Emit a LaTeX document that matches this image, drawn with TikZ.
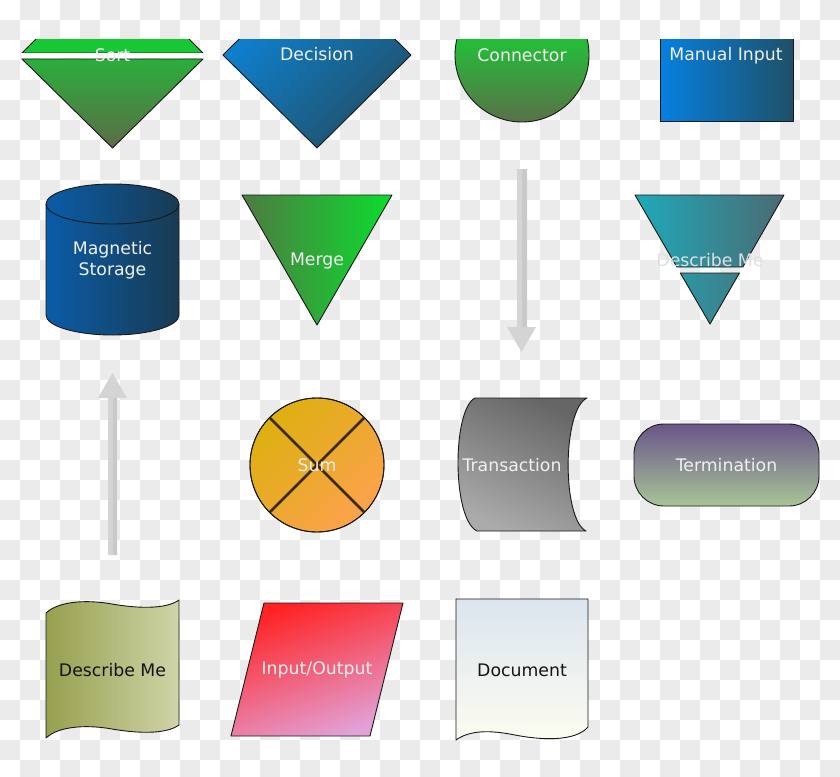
\documentclass[tikz,border=0pt]{standalone}
\usepackage{fontspec}
\setmainfont{DejaVu Sans}
\definecolor{chk}{HTML}{EBEBEB}
\definecolor{lt}{HTML}{F0F0F0}
\definecolor{sortBand}{HTML}{17C733}
\definecolor{sortA}{HTML}{2BAE3B}
\definecolor{sortB}{HTML}{5D6B47}
\definecolor{decA}{HTML}{0A88E0}
\definecolor{decB}{HTML}{225068}
\definecolor{conA}{HTML}{00F030}
\definecolor{conB}{HTML}{5A7048}
\definecolor{manA}{HTML}{0580E0}
\definecolor{manB}{HTML}{1F5068}
\definecolor{cylA}{HTML}{0A5CA8}
\definecolor{cylB}{HTML}{193A52}
\definecolor{merA}{HTML}{4E7A42}
\definecolor{merB}{HTML}{0CDC2E}
\definecolor{dmA}{HTML}{1FA9B9}
\definecolor{dmB}{HTML}{4B6B73}
\definecolor{dmC}{HTML}{2C96A4}
\definecolor{dmD}{HTML}{3E7E88}
\definecolor{sumA}{HTML}{DDB010}
\definecolor{sumB}{HTML}{FCA24C}
\definecolor{sumL}{HTML}{3A2A10}
\definecolor{trA}{HTML}{666666}
\definecolor{trB}{HTML}{ABABAB}
\definecolor{teA}{HTML}{6A5588}
\definecolor{teB}{HTML}{A8C498}
\definecolor{wvA}{HTML}{96A04E}
\definecolor{wvB}{HTML}{D0D4A8}
\definecolor{ioA}{HTML}{FF2222}
\definecolor{ioB}{HTML}{E2A2D8}
\definecolor{docA}{HTML}{DCE5EF}
\definecolor{docB}{HTML}{FCFCF0}
\definecolor{arrA}{HTML}{D4D4D4}
\definecolor{arrB}{HTML}{C9C9C9}
\begin{document}
\begin{tikzpicture}[x=1pt,y=-1pt,
  shp/.style={draw=black!90, line width=0.9pt, line join=round},
  lbl/.style={font=\fontsize{17.3}{21.5}\selectfont, text=lt, inner sep=0pt,
    text height=12.6pt, text depth=0pt},
  dlbl/.style={lbl, text=black!92},
  arrowfill/.style={fill=arrA},
  arrowhalf/.style={fill=arrB}]
\fill[white] (0,0) rectangle (840,776);
\useasboundingbox (0,0) rectangle (840,776);
\foreach \j in {0,...,38}{
  \foreach \k in {0,...,20}{
    \fill[chk] ({20*(2*\k+1-mod(\j,2))},{20*\j}) rectangle +(20,20);
  }
}
% ---------- top row (clipped at y=40) ----------
\begin{scope}
\clip (0,40) rectangle (840,776);
% Sort
\path[shp, fill=sortBand] (22,53) -- (203,53) -- (112.5,-37) -- cycle;
\fill[white] (21,53.5) rectangle (204,58.5);
\path[shp, top color=sortA, bottom color=sortB] (22,59) -- (203,59) -- (112.5,148) -- cycle;
\node[lbl] (sort) at (112.5,55.3) {Sort};
% Decision
\path[shp, top color=decA, bottom color=decB, shading angle=45]
  (223,55) -- (317,-38) -- (411,55) -- (317,148) -- cycle;
\node[lbl] (decision) at (317,53.7) {Decision};
% Connector
\path[shp, top color=conA, bottom color=conB] (522,55) circle[radius=67pt];
\node[lbl] (connector) at (522,55.7) {Connector};
% Manual input
\path[shp, left color=manA, right color=manB] (660,36) rectangle (793,121);
\node[lbl] (manual) at (726,54) {Manual Input};
\end{scope}
% ---------- second row ----------
% Magnetic storage
\path[shp, left color=cylA, right color=cylB]
  (46,204) -- (46,315) arc[start angle=180, end angle=360, x radius=66.5pt, y radius=20pt]
  -- (179,204) arc[start angle=0, end angle=180, x radius=66.5pt, y radius=20pt] -- cycle;
\draw[shp] (46,204) arc[start angle=180, end angle=360, x radius=66.5pt, y radius=20pt];
\node[lbl] (storage1) at (112.5,248.3) {Magnetic};
\node[lbl] (storage2) at (112.5,269.3) {Storage};
% Merge
\path[shp, left color=merA, right color=merB] (242,195) -- (392,195) -- (317,325) -- cycle;
\node[lbl] (merge) at (317,259) {Merge};
% Down arrow
\path[arrowfill] (517,169) -- (517,327) -- (507,327) -- (521.5,352) -- (536,327) -- (527,327) -- (527,169) -- cycle;
\path[arrowhalf] (522,169) rectangle (527,327);
% Describe Me (split triangle)
\path[shp, left color=dmA, right color=dmB] (635,195) -- (784,195) -- (742.8,267) -- (676.9,267) -- cycle;
\path[shp, left color=dmC, right color=dmD] (680.3,273) -- (739.4,273) -- (710,324) -- cycle;
\node[lbl, text=black!12] (describe1) at (710,260.3) {Describe Me};
% ---------- third row ----------
% Up arrow
\path[arrowfill] (108,555) -- (108,398) -- (98,398) -- (112.5,373) -- (127,398) -- (117,398) -- (117,555) -- cycle;
\path[arrowhalf] (112.5,398) rectangle (117,555);
% Sum
\path[shp, top color=sumA, bottom color=sumB, shading angle=45] (317,465) circle[radius=67pt];
\draw[sumL, line width=2.6pt] (270,418) -- (364,512);
\draw[sumL, line width=2.6pt] (364,418) -- (270,512);
\draw[shp] (317,465) circle[radius=67pt];
\node[lbl] (sum) at (317,465.3) {Sum};
% Transaction
\path[shp, top color=trA, bottom color=trB, shading angle=-25]
  (475,398) -- (587,398) .. controls (562,410) and (562,519) .. (586,531)
  -- (477,531) .. controls (452,519) and (452,410) .. (475,398) -- cycle;
\node[lbl] (transaction) at (512,465) {Transaction};
% Termination
\path[shp, top color=teA, bottom color=teB, rounded corners=30pt] (634,424) rectangle (819,506);
\node[lbl] (termination) at (726.5,465) {Termination};
% ---------- fourth row ----------
% Describe Me (wavy)
\path[shp, left color=wvA, right color=wvB]
  (46,613) .. controls (60,600) and (90,600) .. (112,604) .. controls (135,608) and (165,610) .. (179,600)
  -- (179,725) .. controls (165,735) and (135,733) .. (112,729) .. controls (90,725) and (60,725) .. (46,738) -- cycle;
\node[dlbl] (describe2) at (112.5,670) {Describe Me};
% Input/Output
\path[shp, top color=ioA, bottom color=ioB, shading angle=20] (264,603) -- (403,603) -- (370,736) -- (231,736) -- cycle;
\node[lbl] (io) at (317,668.3) {Input/Output};
% Document
\path[shp, top color=docA, bottom color=docB]
  (456,599) -- (588,599) -- (588,727) .. controls (575,742) and (540,740) .. (515,735)
  .. controls (490,730) and (470,730) .. (456,740) -- cycle;
\node[dlbl] (document) at (522,669.7) {Document};
\end{tikzpicture}
\end{document}
